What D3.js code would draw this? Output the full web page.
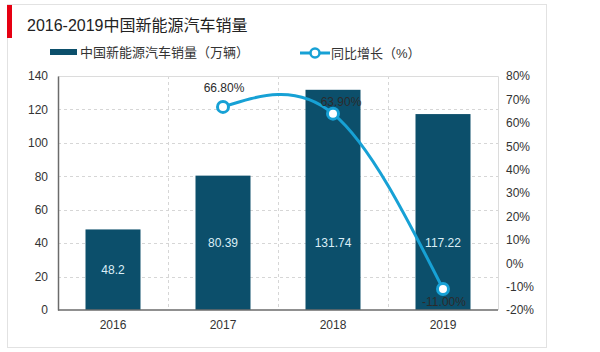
<!DOCTYPE html>
<html>
<head>
<meta charset="utf-8">
<script src="https://cdn.jsdelivr.net/npm/d3@7"></script>
<style>
  body { margin: 0; background: #fff; }
  svg { display: block; font-family: "Liberation Sans", Arial, "Noto Sans CJK SC", sans-serif; }
</style>
</head>
<body>
<svg id="chart" width="600" height="352"></svg>
<script>
// chart data
const years = ["2016", "2017", "2018", "2019"];
const sales = [48.2, 80.39, 131.74, 117.22];           // 万辆
const growthYears = ["2017", "2018", "2019"];
const growth = [66.8, 63.9, -11.0];                    // %
const leftTicks = [0, 20, 40, 60, 80, 100, 120, 140];
const rightTicks = [-20, -10, 0, 10, 20, 30, 40, 50, 60, 70, 80];

const barColor = "#0c4f6b";
const lineColor = "#17a1d5";
const textColor = "#333";

const svg = d3.select("#chart");
const margin = { top: 76, right: 102, bottom: 42, left: 58 };
const width = 600, height = 352;

// outer frame
svg.append("rect")
    .attr("x", 7.5).attr("y", 4.5)
    .attr("width", 539).attr("height", 343)
    .attr("fill", "#fff")
    .attr("stroke", "#e2e2e2");

// title + red marker
svg.append("rect")
    .attr("x", 7).attr("y", 5)
    .attr("width", 5).attr("height", 33)
    .attr("fill", "#e60012");
svg.append("text")
    .attr("x", 27).attr("y", 31)
    .attr("font-size", 16)
    .attr("fill", "#222")
    .text("2016-2019中国新能源汽车销量");

const x = d3.scaleBand()
    .domain(years)
    .range([margin.left, width - margin.right])
    .paddingInner(0.5)
    .paddingOuter(0.25);

const y = d3.scaleLinear()
    .domain([0, 140])
    .range([height - margin.bottom, margin.top]);

const y2 = d3.scaleLinear()
    .domain([-20, 80])
    .range([height - margin.bottom, margin.top]);

const x0 = margin.left, x1 = width - margin.right;
const yBottom = y(0), yTop = y(140);

// gridlines
const grid = svg.append("g")
    .attr("stroke", "#d6d6d6")
    .attr("stroke-dasharray", "3,3");
grid.selectAll("line.h")
    .data(leftTicks.slice(1, -1))
    .join("line")
    .attr("x1", x0).attr("x2", x1)
    .attr("y1", d => Math.round(y(d)) + 0.5)
    .attr("y2", d => Math.round(y(d)) + 0.5);
grid.selectAll("line.v")
    .data(years.slice(1))
    .join("line")
    .attr("x1", d => Math.round(x(d) - x.step() * x.paddingInner() / 2) + 0.5)
    .attr("x2", d => Math.round(x(d) - x.step() * x.paddingInner() / 2) + 0.5)
    .attr("y1", yTop).attr("y2", yBottom);

// plot frame (top / right)
svg.append("path")
    .attr("d", `M${x0},${yTop + 0.5}H${x1 + 0.5}V${yBottom}`)
    .attr("fill", "none")
    .attr("stroke", "#dcdcdc");

// bars
svg.append("g")
    .selectAll("rect")
    .data(years)
    .join("rect")
    .attr("x", d => x(d))
    .attr("width", x.bandwidth())
    .attr("y", (d, i) => y(sales[i]))
    .attr("height", (d, i) => y(0) - y(sales[i]))
    .attr("fill", barColor);

// bar labels
svg.append("g")
    .selectAll("text")
    .data(years)
    .join("text")
    .attr("x", d => x(d) + x.bandwidth() / 2)
    .attr("y", (d, i) => Math.max((y(0) + y(sales[i])) / 2, y(40)) + 4)
    .attr("text-anchor", "middle")
    .attr("font-size", 12)
    .attr("fill", "#dbeef6")
    .text((d, i) => sales[i]);

// axes
const leftAxis = svg.append("g")
    .attr("transform", `translate(${x0},0)`)
    .call(d3.axisLeft(y).tickValues(leftTicks).tickSize(0).tickPadding(10));
leftAxis.select(".domain").attr("stroke", "#6b6b6b").attr("stroke-width", 1.5);
leftAxis.selectAll("text").attr("font-size", 12).attr("fill", textColor)
    .attr("font-family", "Liberation Sans, Arial, sans-serif");

const rightAxis = svg.append("g")
    .attr("transform", `translate(${x1},0)`)
    .call(d3.axisRight(y2).tickValues(rightTicks).tickSize(0).tickPadding(8).tickFormat(d => d + "%"));
rightAxis.select(".domain").remove();
rightAxis.selectAll("text").attr("font-size", 12).attr("fill", textColor)
    .attr("font-family", "Liberation Sans, Arial, sans-serif");

const bottomAxis = svg.append("g")
    .attr("transform", `translate(0,${yBottom})`)
    .call(d3.axisBottom(x).tickSize(0).tickPadding(10));
bottomAxis.select(".domain")
    .attr("d", `M${x0},0H${x1}`)
    .attr("stroke", "#6b6b6b").attr("stroke-width", 1.5);
bottomAxis.selectAll("text").attr("font-size", 12).attr("fill", textColor)
    .attr("font-family", "Liberation Sans, Arial, sans-serif");

// growth line
const cx = d => x(d) + x.bandwidth() / 2;
const line = d3.line()
    .x((d, i) => cx(growthYears[i]))
    .y(d => y2(d))
    .curve(d3.curveNatural);

svg.append("path")
    .datum(growth)
    .attr("d", line)
    .attr("fill", "none")
    .attr("stroke", lineColor)
    .attr("stroke-width", 3);

svg.append("g")
    .selectAll("circle")
    .data(growth)
    .join("circle")
    .attr("cx", (d, i) => cx(growthYears[i]))
    .attr("cy", d => y2(d))
    .attr("r", 5.5)
    .attr("fill", "#fff")
    .attr("stroke", lineColor)
    .attr("stroke-width", 3);

// growth labels: above for positive, below for negative
svg.append("g")
    .selectAll("text")
    .data(growth)
    .join("text")
    .attr("x", (d, i) => cx(growthYears[i]) + (i === 1 ? 8 : 1))
    .attr("y", (d, i) => d >= 0 ? y2(d) - (i === 1 ? 8 : 15) : y2(d) + 17)
    .attr("text-anchor", "middle")
    .attr("font-size", 12)
    .attr("fill", "#2b2b2b")
    .text(d => d.toFixed(2) + "%");

// legend
const legend = svg.append("g").attr("font-size", 13).attr("fill", textColor);
legend.append("rect")
    .attr("x", 50).attr("y", 49)
    .attr("width", 27).attr("height", 6)
    .attr("fill", barColor);
legend.append("text")
    .attr("x", 80).attr("y", 57)
    .text("中国新能源汽车销量（万辆）");
legend.append("line")
    .attr("x1", 300).attr("x2", 330)
    .attr("y1", 53).attr("y2", 53)
    .attr("stroke", lineColor).attr("stroke-width", 3);
legend.append("circle")
    .attr("cx", 315).attr("cy", 53).attr("r", 4.5)
    .attr("fill", "#fff")
    .attr("stroke", lineColor).attr("stroke-width", 2.5);
legend.append("text")
    .attr("x", 331).attr("y", 58)
    .text("同比增长（%）");
</script>
</body>
</html>
